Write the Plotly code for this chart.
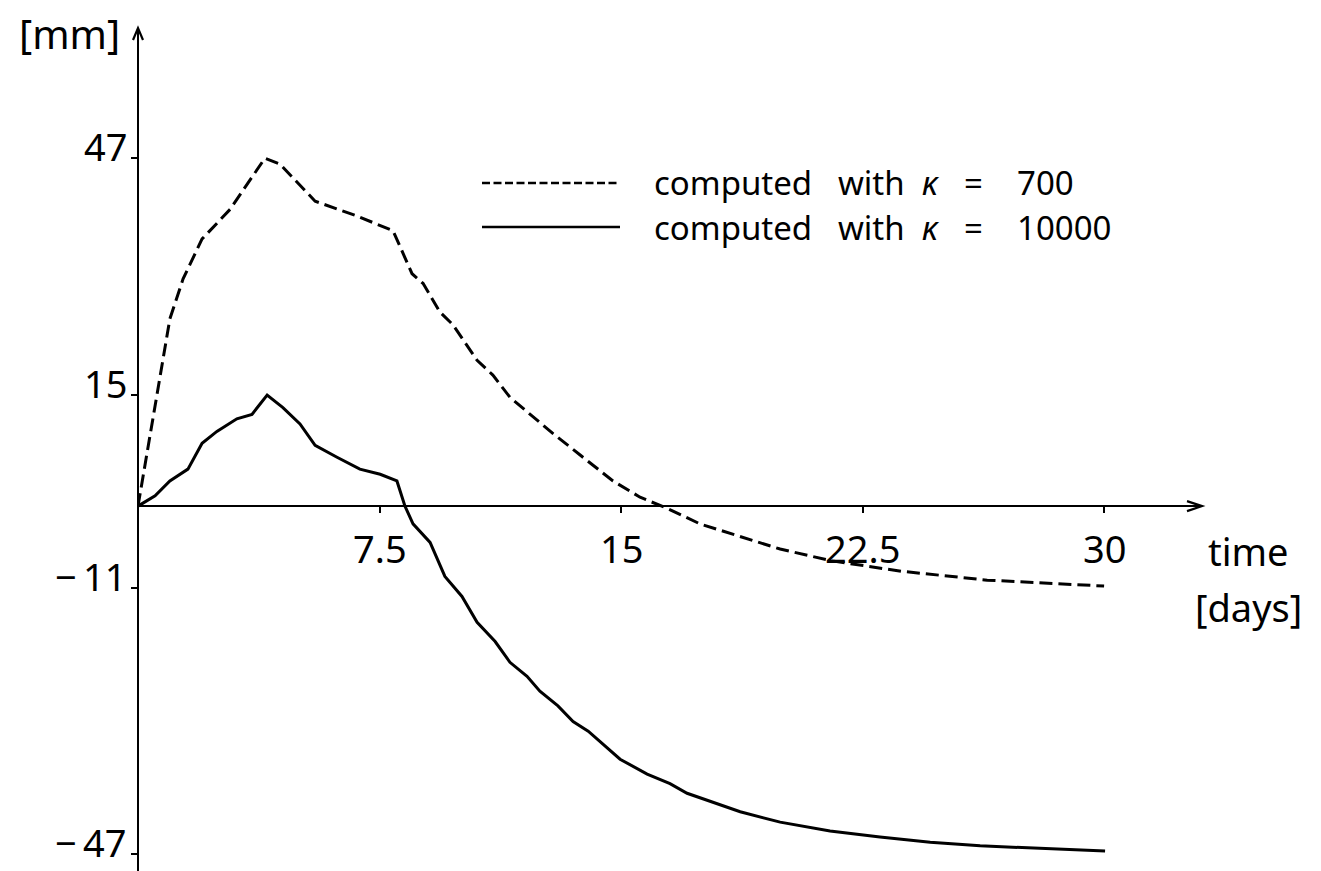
import plotly.graph_objects as go

# ---------------- data ----------------
days_k700 = [0, 0.53, 0.99, 1.40, 1.99, 2.86, 3.94, 4.41, 5.50, 6.80, 7.92, 8.51, 8.85,
             9.38, 9.78, 10.53, 11.02, 11.55, 12.17, 12.89, 13.73, 14.75, 15.59, 16.43,
             17.45, 18.70, 19.94, 21.55, 23.70, 26.37, 30.0]
mm_k700 = [0, 13.3, 25.3, 30.7, 36.1, 40.1, 47.0, 46.2, 41.2, 39.2, 37.2, 31.4, 30.1,
           26.2, 24.5, 19.7, 17.7, 14.7, 12.4, 9.8, 6.9, 3.4, 1.2, -0.3,
           -2.4, -4.1, -5.8, -7.4, -8.8, -10.0, -10.8]

days_k10000 = [0, 0.53, 0.99, 1.55, 1.99, 2.45, 3.07, 3.54, 4.01, 4.50, 5.03, 5.50, 6.18,
               6.89, 7.52, 8.04, 8.29, 8.54, 9.07, 9.53, 10.06, 10.53, 11.09, 11.55,
               12.08, 12.48, 13.04, 13.51, 13.98, 14.50, 14.97, 15.81, 16.52, 17.05,
               17.86, 18.70, 19.94, 21.49, 23.04, 24.60, 26.15, 27.70, 29.25, 30.03]
mm_k10000 = [0, 1.4, 3.4, 5.0, 8.5, 10.1, 11.8, 12.4, 15.0, 13.3, 11.1, 8.2, 6.6,
             5.0, 4.3, 3.4, 0, -2.4, -4.9, -9.5, -12.2, -15.7, -18.3, -21.1,
             -23.0, -25.0, -27.0, -29.1, -30.4, -32.4, -34.2, -36.2, -37.5, -38.8,
             -40.0, -41.3, -42.7, -43.9, -44.7, -45.4, -45.9, -46.2, -46.5, -46.6]

x_tick_vals = [7.5, 15, 22.5, 30]
x_tick_text = ["7.5", "15", "22.5", "30"]
y_tick_vals = [47, 15, -11, -47]
y_tick_text = ["47", "15", "\u2212\u200911", "\u2212\u200947"]

kappa_values = ["700", "10000"]
NB = "\u00a0"
legend_labels = [
    "computed" + NB * 3 + "with" + NB * 2 + "<i>\u03ba</i>" + NB * 3 + "=" + NB * 4 + k
    for k in kappa_values
]

# ---------------- layout geometry ----------------
W, H = 1321, 871
L, R, T, B = 138, 119, 28, 0
XMAX = 33.04
YMIN, YMAX = -49.3, 64.6
FONT = "Noto Sans"


def px_x(px):
    return (px - L) / (W - L - R)


def px_y(py):
    return (H - B - py) / (H - T - B)


fig = go.Figure()
fig.add_trace(go.Scatter(x=days_k700, y=mm_k700, mode="lines",
                         line=dict(color="black", width=3, dash="13px,6px"),
                         showlegend=False, hoverinfo="skip"))
fig.add_trace(go.Scatter(x=days_k10000, y=mm_k10000, mode="lines",
                         line=dict(color="black", width=3),
                         showlegend=False, hoverinfo="skip"))

x_axis_pos = (0 - YMIN) / (YMAX - YMIN)

fig.update_layout(
    width=W, height=H,
    margin=dict(l=L, r=R, t=T, b=B, pad=0, autoexpand=False),
    paper_bgcolor="white", plot_bgcolor="white",
    showlegend=False,
    font=dict(family=FONT, color="black"),
    xaxis=dict(range=[0, XMAX], showgrid=False, zeroline=False,
               showline=True, linecolor="black", linewidth=2.4,
               ticks="outside", ticklen=6, tickwidth=2, tickcolor="black",
               tickvals=x_tick_vals, showticklabels=False,
               anchor="free", position=x_axis_pos, fixedrange=True),
    yaxis=dict(range=[YMIN, YMAX], showgrid=False, zeroline=False,
               showline=True, linecolor="black", linewidth=2.4,
               ticks="outside", ticklen=6, tickwidth=2, tickcolor="black",
               tickvals=y_tick_vals, showticklabels=False,
               anchor="free", position=0, fixedrange=True),
)

annotations = []
for v, t in zip(x_tick_vals, x_tick_text):
    annotations.append(dict(x=v, y=0, xref="x", yref="y", text=t, showarrow=False,
                            xanchor="center", yanchor="middle", yshift=-42,
                            font=dict(size=38, family=FONT)))
for v, t in zip(y_tick_vals, y_tick_text):
    annotations.append(dict(x=0, y=v, xref="x", yref="y", text=t, showarrow=False,
                            xanchor="right", yanchor="middle", xshift=-9, yshift=12,
                            font=dict(size=38, family=FONT)))
# axis titles
annotations.append(dict(x=0, y=YMAX, xref="x", yref="y", text="[mm]", showarrow=False,
                        xanchor="right", yanchor="middle", xshift=-16, yshift=-5,
                        font=dict(size=40, family=FONT)))
annotations.append(dict(x=XMAX, y=0, xref="x", yref="y", text="time", showarrow=False,
                        xanchor="center", yanchor="middle", xshift=46, yshift=-45,
                        font=dict(size=38, family=FONT)))
annotations.append(dict(x=XMAX, y=0, xref="x", yref="y", text="[days]", showarrow=False,
                        xanchor="center", yanchor="middle", xshift=46, yshift=-101,
                        font=dict(size=38, family=FONT)))
# legend text
for py, t in zip([183, 227], legend_labels):
    annotations.append(dict(x=px_x(652), y=px_y(py), xref="paper", yref="paper", text=t,
                            showarrow=False, xanchor="left", yanchor="middle",
                            font=dict(size=33, family=FONT)))
fig.update_layout(annotations=annotations)

shapes = [
    # legend sample lines
    dict(type="line", xref="paper", yref="paper", x0=px_x(482), x1=px_x(620),
         y0=px_y(183), y1=px_y(183), line=dict(color="black", width=2.4, dash="8px,3.5px")),
    dict(type="line", xref="paper", yref="paper", x0=px_x(482), x1=px_x(620),
         y0=px_y(227), y1=px_y(227), line=dict(color="black", width=2.4)),
    # arrow heads (paper refs so they are not clipped)
    dict(type="path", xref="paper", yref="paper", xsizemode="pixel", ysizemode="pixel",
         xanchor=1, yanchor=x_axis_pos, path="M -15,5 L 0,0 L -15,-5",
         line=dict(color="black", width=2.2)),
    dict(type="path", xref="paper", yref="paper", xsizemode="pixel", ysizemode="pixel",
         xanchor=0, yanchor=1, path="M -5,-12 L 0,0 L 5,-12",
         line=dict(color="black", width=2.2)),
]
fig.update_layout(shapes=shapes)

fig.write_html("out.html")
